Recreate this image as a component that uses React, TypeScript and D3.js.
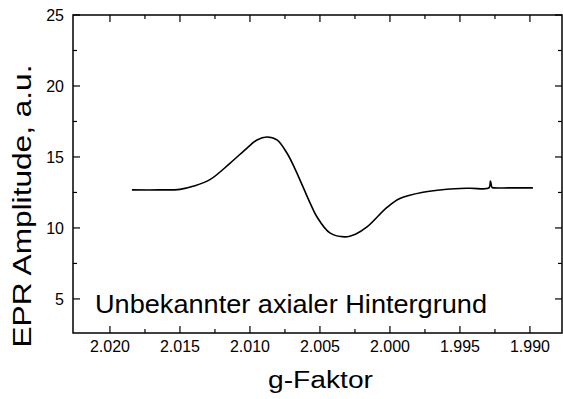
import React from "react";
import * as d3 from "d3";

const gValues = [
  2.01843, 2.0165, 2.015, 2.0140, 2.01286, 2.01143, 2.01021, 2.0095, 2.00879,
  2.00807, 2.00736, 2.0068, 2.00621, 2.0057, 2.00521, 2.00429, 2.00321,
  2.00243, 2.00164, 2.00021, 1.99929, 1.99764, 1.99593, 1.9943, 1.99293,
  1.99282, 1.99271, 1.99257, 1.9915, 1.98979,
];
const amplitudes = [
  12.68, 12.68, 12.72, 12.95, 13.4, 14.55, 15.63, 16.2, 16.41,
  16.2, 15.28, 14.2, 12.89, 11.75, 10.77, 9.65, 9.37,
  9.58, 10.07, 11.45, 12.08, 12.52, 12.73, 12.8, 12.82,
  13.3, 12.86, 12.82, 12.82, 12.82,
];

const xMajorTicks = [2.02, 2.015, 2.01, 2.005, 2.0, 1.995, 1.99];
const xMinorTicks = [2.0175, 2.0125, 2.0075, 2.0025, 1.9975, 1.9925];
const yMajorTicks = [5, 10, 15, 20, 25];
const yMinorTicks = [7.5, 12.5, 17.5, 22.5];

const xTitle = "g-Faktor";
const yTitle = "EPR Amplitude, a.u.";
const annotation = "Unbekannter axialer Hintergrund";

export default function App() {
  const W = 563, H = 399;
  const L = 73, R = 562, T = 15, B = 333;
  const x = d3.scaleLinear().domain([2.02264, 1.98771]).range([L, R]);
  const y = d3.scaleLinear().domain([2.6, 25]).range([B, T]);
  const line = d3.line<number>().x((_, i) => x(gValues[i])).y((d) => y(d)).curve(d3.curveCatmullRom.alpha(0.5));
  const font = "Liberation Sans, Arial, sans-serif";
  const maj = 7, min = 4;
  return (
    <svg width={W} height={H} style={{ position: "absolute", left: 0, top: 0, background: "#fff" }} fontFamily={font}>
      <rect x={0} y={0} width={W} height={H} fill="#fff" />
      <rect x={L} y={T} width={R - L} height={B - T} fill="none" stroke="#000" strokeWidth={1.5} />
      {xMajorTicks.map((t) => (
        <g key={"xm" + t}>
          <line x1={x(t)} x2={x(t)} y1={B} y2={B - maj} stroke="#000" strokeWidth={1.2} />
          <line x1={x(t)} x2={x(t)} y1={T} y2={T + maj} stroke="#000" strokeWidth={1.2} />
          <text x={x(t)} y={352} textAnchor="middle" fontSize={16}>{d3.format(".3f")(t)}</text>
        </g>
      ))}
      {xMinorTicks.map((t) => (
        <g key={"xn" + t}>
          <line x1={x(t)} x2={x(t)} y1={B} y2={B - min} stroke="#000" strokeWidth={1.2} />
          <line x1={x(t)} x2={x(t)} y1={T} y2={T + min} stroke="#000" strokeWidth={1.2} />
        </g>
      ))}
      {yMajorTicks.map((t) => (
        <g key={"ym" + t}>
          <line x1={L} x2={L + maj} y1={y(t)} y2={y(t)} stroke="#000" strokeWidth={1.2} />
          <line x1={R} x2={R - maj} y1={y(t)} y2={y(t)} stroke="#000" strokeWidth={1.2} />
          <text x={64} y={y(t) + 6} textAnchor="end" fontSize={16}>{t}</text>
        </g>
      ))}
      {yMinorTicks.map((t) => (
        <g key={"yn" + t}>
          <line x1={L} x2={L + min} y1={y(t)} y2={y(t)} stroke="#000" strokeWidth={1.2} />
          <line x1={R} x2={R - min} y1={y(t)} y2={y(t)} stroke="#000" strokeWidth={1.2} />
        </g>
      ))}
      <path d={line(amplitudes) || ""} fill="none" stroke="#000" strokeWidth={1.6} />
      <text x={95} y={313} fontSize={26} textLength={392} lengthAdjust="spacingAndGlyphs">{annotation}</text>
      <text x={(L + R) / 2 + 3} y={388} textAnchor="middle" fontSize={23} textLength={105} lengthAdjust="spacingAndGlyphs">{xTitle}</text>
      <text transform={`translate(31,${206}) rotate(-90)`} textAnchor="middle" fontSize={26} textLength={283} lengthAdjust="spacingAndGlyphs">{yTitle}</text>
    </svg>
  );
}
